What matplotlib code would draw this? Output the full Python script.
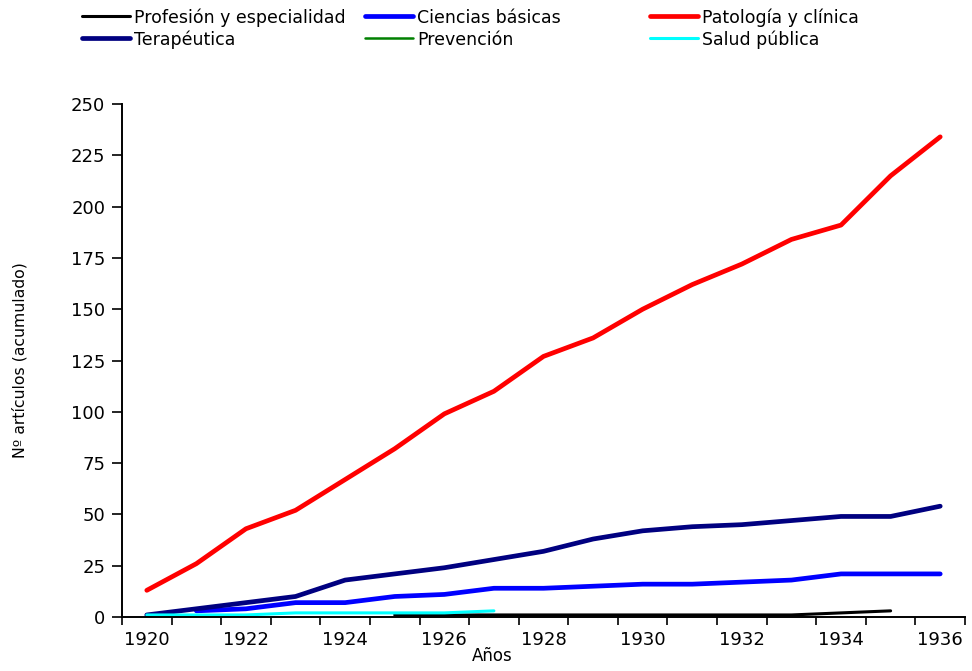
import matplotlib
matplotlib.use("Agg")
import matplotlib.pyplot as plt
from matplotlib.lines import Line2D
from matplotlib import font_manager
import numpy as np

years = list(range(1920, 1937))
profesion = [None]*5 + [1, 1, 1, 1, 1, 1, 1, 1, 1, 2, 3, None]
ciencias = [None, 3, 4, 7, 7, 10, 11, 14, 14, 15, 16, 16, 17, 18, 21, 21, 21]
patologia = [13, 26, 43, 52, 67, 82, 99, 110, 127, 136, 150, 162, 172, 184, 191, 215, 234]
terapeutica = [1, 4, 7, 10, 18, 21, 24, 28, 32, 38, 42, 44, 45, 47, 49, 49, 54]
prevencion = [None]*17
salud = [1, 1, 1, 2, 2, 2, 2, 3] + [None]*9

series = [
    ("Profesión y especialidad", profesion, "#000000", 2.2),
    ("Ciencias básicas", ciencias, "#0000FF", 3.4),
    ("Patología y clínica", patologia, "#FF0000", 3.4),
    ("Terapéutica", terapeutica, "#000080", 3.4),
    ("Prevención", prevencion, "#008000", 1.8),
    ("Salud pública", salud, "#00FFFF", 2.2),
]

W, H = 972, 671
fig = plt.figure(figsize=(W/100, H/100), dpi=100)
ax = fig.add_axes([122/W, 1-617/H, (965-122)/W, (617-104)/H])

for name, vals, col, lw in series:
    y = np.array([np.nan if v is None else v for v in vals], dtype=float)
    ax.plot(years, y, color=col, lw=lw, solid_capstyle="round",
            solid_joinstyle="round", label=name)

ax.set_xlim(1919.5, 1936.5)
ax.set_ylim(0, 250)
ax.set_yticks(np.arange(0, 251, 25))
ax.set_xticks(range(1920, 1937, 2))
ax.set_xticks(np.arange(1919.5, 1937, 1), minor=True)
ax.tick_params(axis="x", which="major", length=0, pad=10, labelsize=13)
ax.tick_params(axis="x", which="minor", length=6, width=1.2, direction="out")
ax.tick_params(axis="y", length=7, width=1.2, direction="out", labelsize=13, pad=5)
for s in ["top", "right"]:
    ax.spines[s].set_visible(False)
for s in ["left", "bottom"]:
    ax.spines[s].set_linewidth(1.4)

ax.set_xlabel("Años", fontsize=12)
ax.xaxis.set_label_coords((492-122)/(965-122), -0.058)

avail = {f.name for f in font_manager.fontManager.ttflist}
yfam = [f for f in ["Liberation Sans Narrow", "DejaVu Sans Condensed"] if f in avail] + ["DejaVu Sans"]
ax.set_ylabel("Nº artículos (acumulado)", fontsize=11.3, family=yfam)
ax.yaxis.set_label_coords(-0.112, 0.5)

# legend laid out as in the reference: 3 columns x 2 rows
cols_x = [82, 365, 650]
rows_y = [16, 38]
for i, (name, vals, col, lw) in enumerate(series):
    r, c = divmod(i, 3)
    x0 = cols_x[c]
    yy = 1 - rows_y[r]/H
    fig.add_artist(Line2D([x0/W, (x0+48)/W], [yy, yy], color=col, lw=lw,
                          solid_capstyle="round", transform=fig.transFigure))
    fig.text((x0+52)/W, yy, name, fontsize=12.5, va="center_baseline", ha="left")

fig.savefig("out.png", dpi=100)
